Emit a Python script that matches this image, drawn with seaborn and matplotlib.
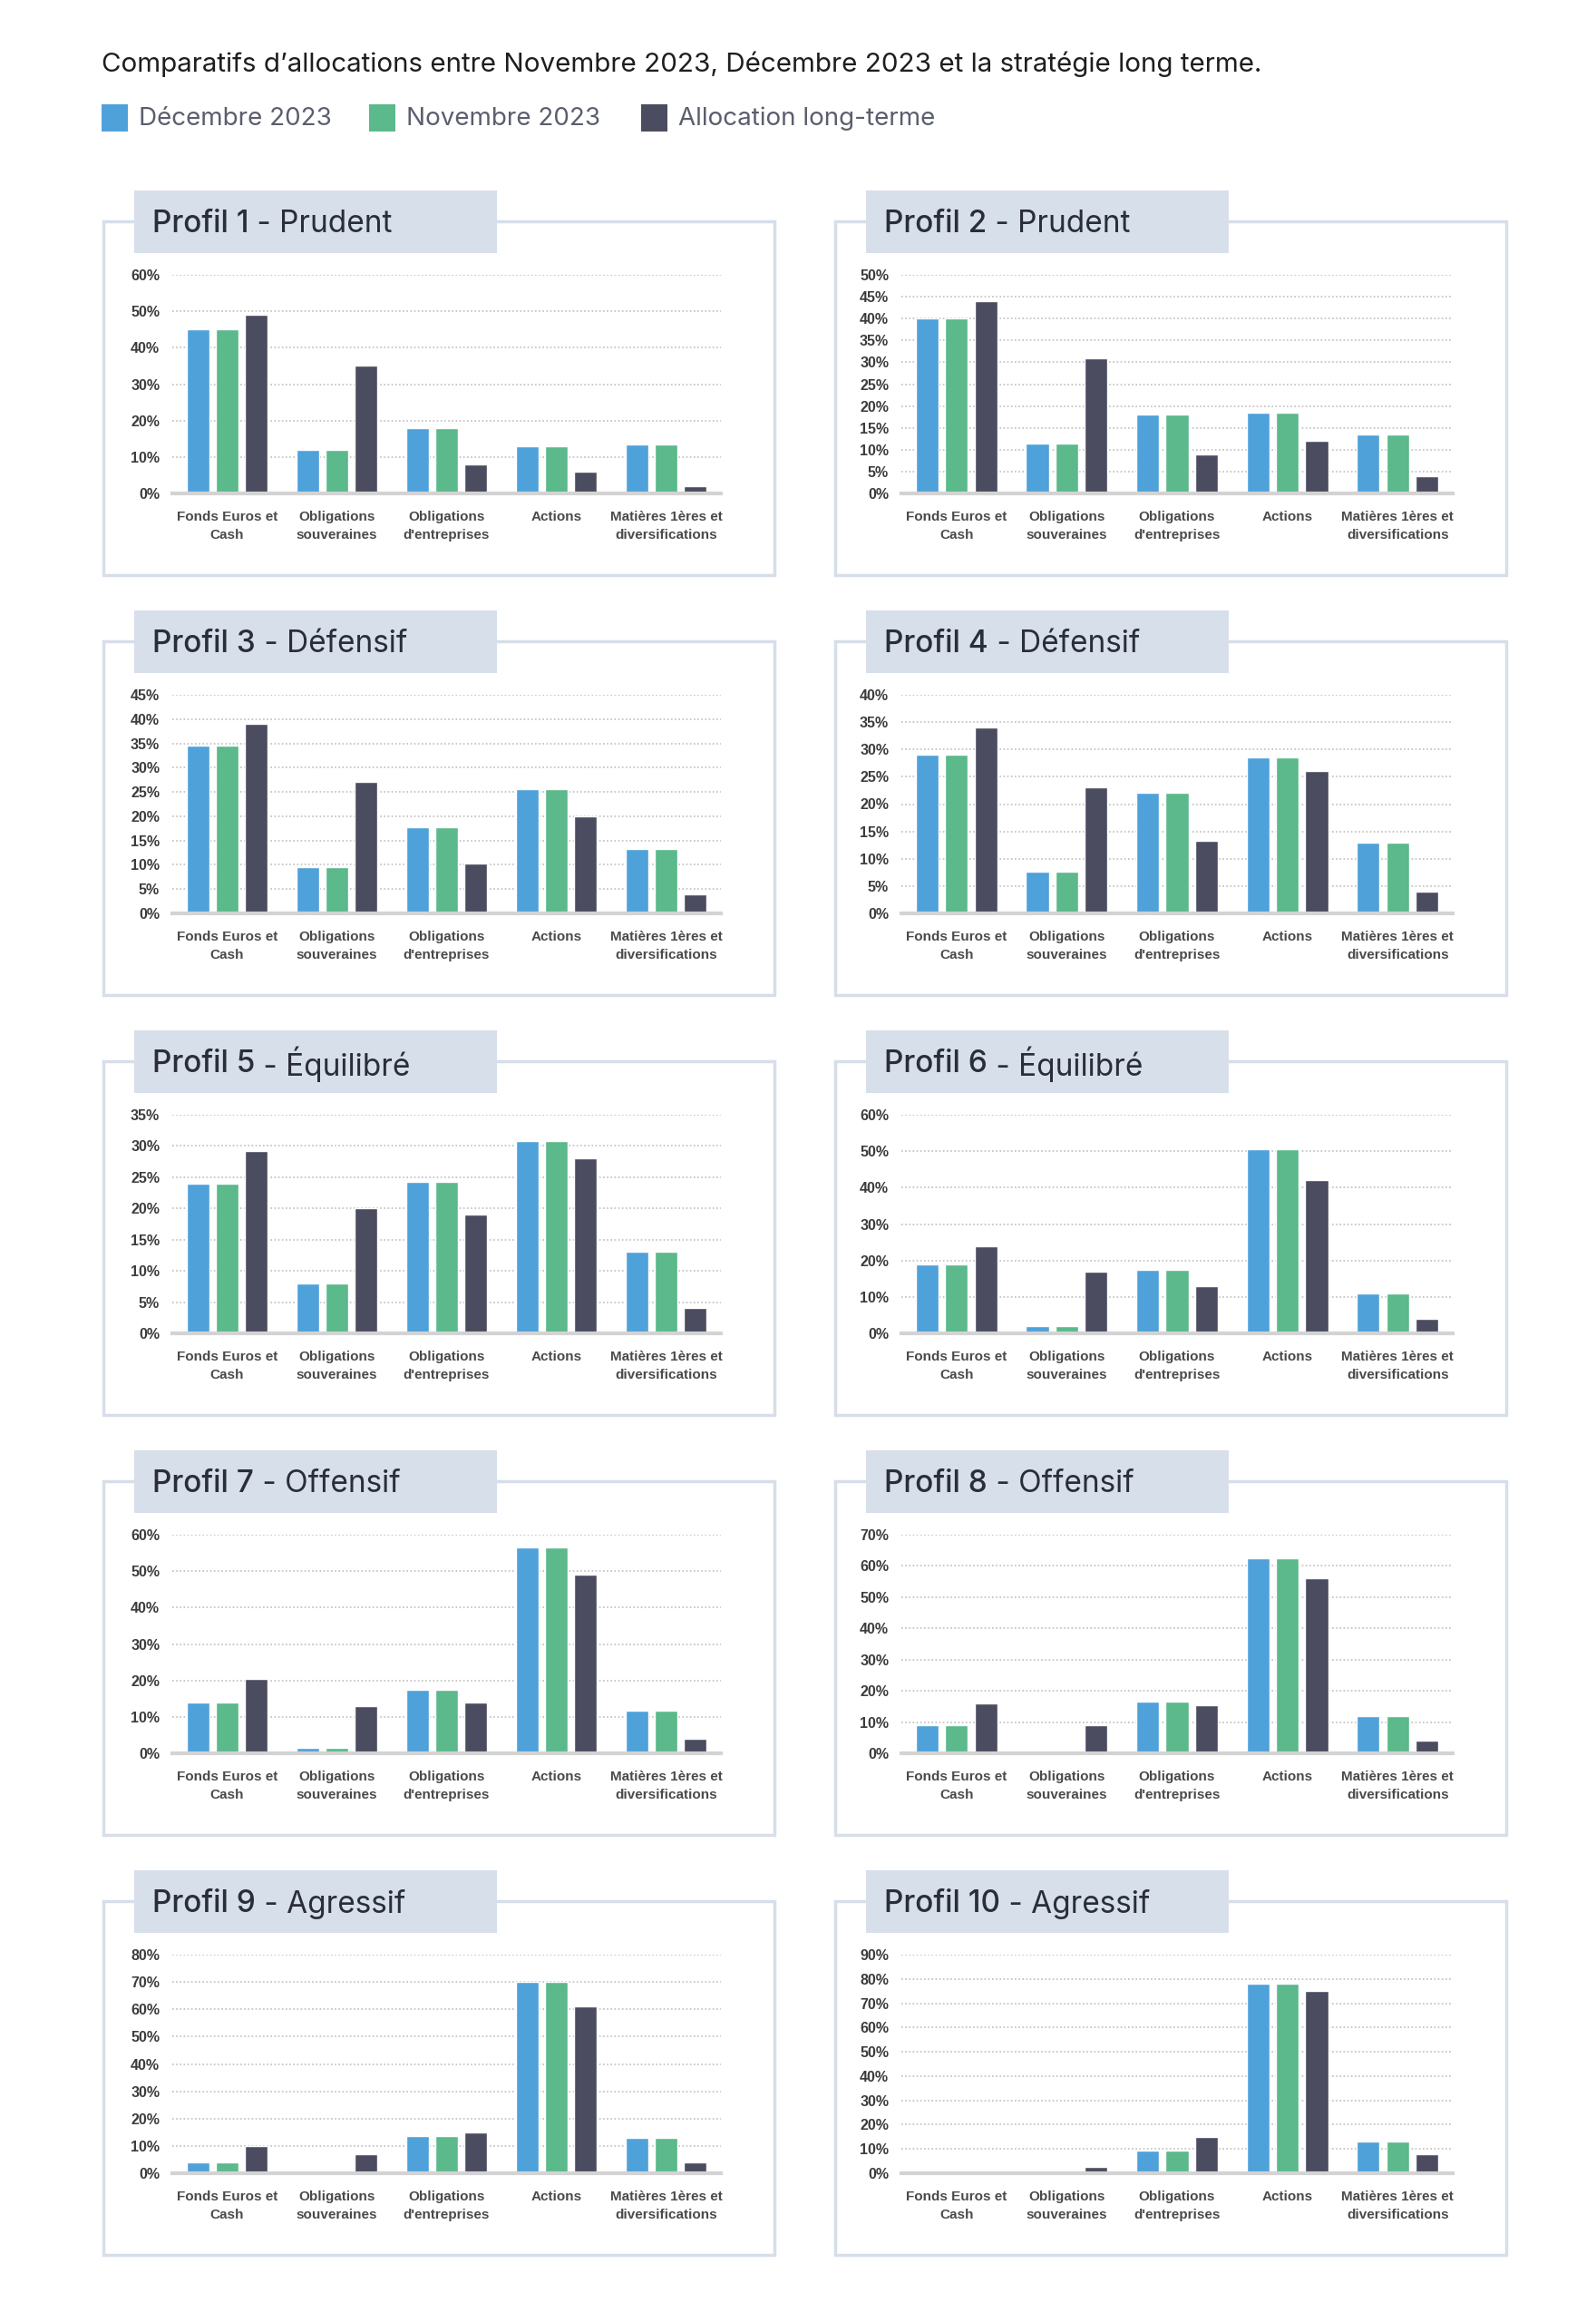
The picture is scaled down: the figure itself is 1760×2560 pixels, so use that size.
import matplotlib
matplotlib.use("Agg")
import matplotlib.pyplot as plt
from matplotlib.patches import Rectangle
from matplotlib.ticker import FuncFormatter
import pandas as pd
import seaborn as sns

sns.set_theme(style="white")
plt.rcParams["font.family"] = ["Inter", "DejaVu Sans"]

# Data (percent)
categories = ["Fonds Euros et\nCash", "Obligations\nsouveraines",
              "Obligations\nd'entreprises", "Actions",
              "Matières 1ères et\ndiversifications"]
series = ["Décembre 2023", "Novembre 2023", "Allocation long-terme"]
profile_names = ["Profil 1", "Profil 2", "Profil 3", "Profil 4", "Profil 5",
                 "Profil 6", "Profil 7", "Profil 8", "Profil 9", "Profil 10"]
profile_types = ["Prudent", "Prudent", "Défensif", "Défensif", "Équilibré",
                 "Équilibré", "Offensif", "Offensif", "Agressif", "Agressif"]

dec_values = [
    [45, 12, 18, 13, 13.5],
    [40, 11.5, 18, 18.5, 13.5],
    [34.5, 9.5, 17.7, 25.5, 13.2],
    [29, 7.7, 22, 28.5, 13],
    [24, 8, 24.3, 30.8, 13],
    [19, 2, 17.5, 50.5, 11],
    [14, 1.5, 17.5, 56.5, 11.8],
    [9, 0, 16.5, 62.5, 12],
    [4, 0, 13.5, 70, 13],
    [0, 0, 9.5, 78, 13],
]
nov_values = [
    [45, 12, 18, 13, 13.5],
    [40, 11.5, 18, 18.5, 13.5],
    [34.5, 9.5, 17.7, 25.5, 13.2],
    [29, 7.7, 22, 28.5, 13],
    [24, 8, 24.3, 30.8, 13],
    [19, 2, 17.5, 50.5, 11],
    [14, 1.5, 17.5, 56.5, 11.8],
    [9, 0, 16.5, 62.5, 12],
    [4, 0, 13.5, 70, 13],
    [0, 0, 9.5, 78, 13],
]
lt_values = [
    [49, 35, 8, 6, 2],
    [44, 31, 9, 12, 4],
    [39, 27, 10.3, 20, 4],
    [34, 23, 13.2, 26, 4],
    [29.2, 20, 19, 28, 4],
    [24, 17, 13, 42, 4],
    [20.3, 13, 14, 49, 4],
    [16, 9, 15.5, 56, 4],
    [10, 7, 15, 61, 4],
    [0, 2.5, 15, 75, 8],
]
y_max = [60, 50, 45, 40, 35, 60, 60, 70, 80, 90]
y_step = [10, 5, 5, 5, 5, 10, 10, 10, 10, 10]

colors = ["#4FA1DA", "#5BB98B", "#4B4C5F"]
BORDER = "#D6DEE9"
TAB = "#D7DFEA"
TEXT_DARK = "#2A2E39"

W, H = 1760, 2560
fig = plt.figure(figsize=(W / 100, H / 100), dpi=100)
fig.patch.set_facecolor("white")


def fx(px):
    return px / W


def fy(py):
    return 1 - py / H


def rect(x0, y0, x1, y1, **kw):
    r = Rectangle((fx(x0), fy(y1)), fx(x1) - fx(x0), fy(y0) - fy(y1),
                  transform=fig.transFigure, **kw)
    fig.add_artist(r)
    return r


# Header
fig.text(fx(112), fy(71), "Comparatifs d\u2019allocations entre Novembre 2023, "
         "Décembre 2023 et la stratégie long terme.",
         fontsize=21.3, color="#1E1E1E", va="center", ha="left")

legend_x = [112, 407, 707]
for lx, name, c in zip(legend_x, series, colors):
    rect(lx, 115, lx + 29, 145, facecolor=c, edgecolor="none")
    fig.text(fx(lx + 41), fy(131), name, fontsize=20, color="#5A5E6E",
             va="center", ha="left")

col_box = [(114, 854), (921, 1661)]
col_axes = [(190, 795), (994, 1602)]
narrow = ["Liberation Sans Narrow", "Liberation Sans", "DejaVu Sans"]

title_parts = []
for i in range(10):
    row, col = divmod(i, 2)
    top = 244 + 463 * row
    bx0, bx1 = col_box[col]
    ax0, ax1 = col_axes[col]

    # Panel frame and title tab
    rect(bx0, top, bx1, top + 390, facecolor="none", edgecolor=BORDER,
         linewidth=2.5)
    tx0 = bx0 + 34
    rect(tx0, top - 34, tx0 + 400, top + 35, facecolor=TAB, edgecolor="none",
         zorder=3)
    t1 = fig.text(fx(tx0 + 20), fy(top + 3), profile_names[i], fontsize=24,
                  fontweight="medium", color=TEXT_DARK, va="center",
                  ha="left", zorder=4)
    title_parts.append((t1, top, profile_types[i]))

    # Bar chart
    ax = fig.add_axes([fx(ax0), fy(top + 300), fx(ax1) - fx(ax0),
                       (300 - 59) / H])
    df = pd.DataFrame({
        "categorie": categories * 3,
        "serie": [s for s in series for _ in categories],
        "valeur": dec_values[i] + nov_values[i] + lt_values[i],
    })
    sns.barplot(data=df, x="categorie", y="valeur", hue="serie",
                order=categories, hue_order=series, palette=colors,
                width=0.8, gap=0.22, saturation=1, legend=False, ax=ax,
                zorder=3)
    ax.set_xlim(-0.5, len(categories) - 0.5)
    ax.set_ylim(0, y_max[i])
    ax.set_yticks(range(0, y_max[i] + 1, y_step[i]))
    ax.yaxis.set_major_formatter(FuncFormatter(lambda v, p: f"{v:.0f}%"))
    ax.grid(axis="y", linestyle=(0, (1, 1.5)), color="#BFBFBF",
            linewidth=1.2, zorder=0)
    ax.grid(axis="x", visible=False)
    ax.set_xlabel("")
    ax.set_ylabel("")
    for side in ["top", "right", "left"]:
        ax.spines[side].set_visible(False)
    ax.spines["bottom"].set_color("#D3D3D3")
    ax.spines["bottom"].set_linewidth(3)
    ax.spines["bottom"].set_zorder(4)
    ax.tick_params(axis="both", length=0)
    ax.tick_params(axis="y", pad=10)
    ax.tick_params(axis="x", pad=14)
    for lab in ax.get_yticklabels():
        lab.set_family(narrow)
        lab.set_fontweight("bold")
        lab.set_fontsize(11.5)
        lab.set_color("#3C3C3C")
    for lab in ax.get_xticklabels():
        lab.set_family(narrow)
        lab.set_fontweight("bold")
        lab.set_fontsize(11)
        lab.set_color("#4A4A4A")
        lab.set_linespacing(1.55)
    ax.set_facecolor("none")

# Second half of each panel title, placed after the medium-weight part
fig.canvas.draw()
renderer = fig.canvas.get_renderer()
for t1, top, kind in title_parts:
    bb = t1.get_window_extent(renderer=renderer)
    x_end = bb.x1 / fig.bbox.width
    fig.text(x_end, fy(top + 3), " - " + kind, fontsize=24,
             fontweight="normal", color=TEXT_DARK, va="center", ha="left",
             zorder=4)

fig.savefig("out.png", dpi=100, facecolor="white")
